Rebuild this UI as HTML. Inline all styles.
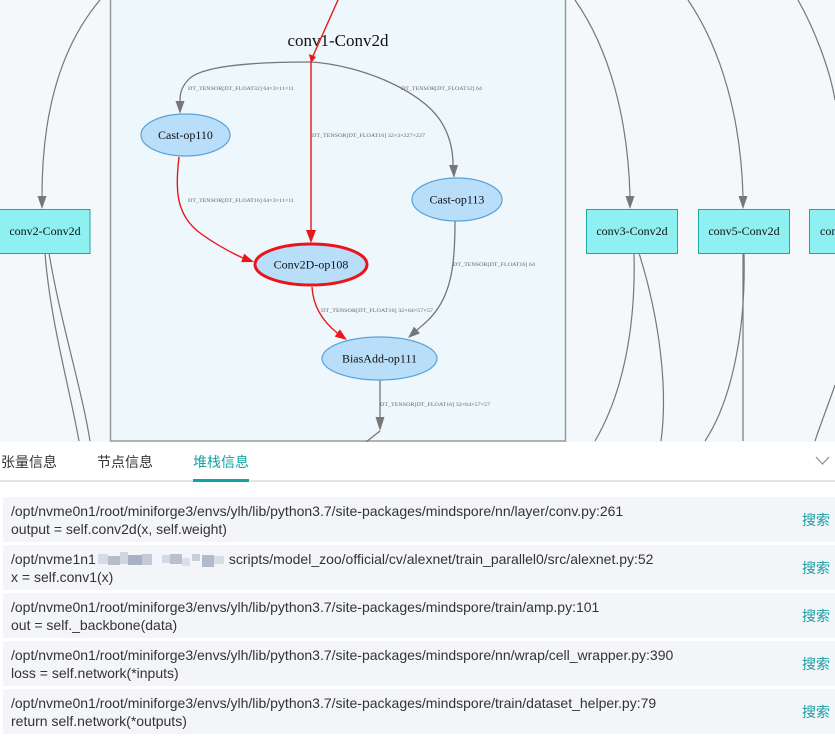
<!DOCTYPE html>
<html><head><meta charset="utf-8"><style>
html,body{margin:0;padding:0;}
body{width:835px;height:742px;position:relative;overflow:hidden;background:#fff;font-family:"Liberation Sans","Noto Sans CJK SC",sans-serif;}
#g{position:absolute;left:0;top:0;}
.tab{position:absolute;top:452px;font-size:14px;line-height:20px;color:#333;font-family:"Liberation Sans","Noto Sans CJK SC",sans-serif;}
.row{position:absolute;left:3px;width:832px;height:45px;background:#f3f5f9;}
.row .t{position:absolute;left:8px;top:5px;font-size:14px;line-height:18px;color:#333;white-space:nowrap;}
.row .s{position:absolute;left:799px;top:14px;font-size:14px;line-height:18px;color:#13a3a5;font-family:"Liberation Sans","Noto Sans CJK SC",sans-serif;}
.blur{display:inline-block;position:relative;width:133px;height:18px;vertical-align:top;}
.blur i{position:absolute;display:block;}
</style></head><body>
<svg id="g" width="835" height="442" viewBox="0 0 835 442" xmlns="http://www.w3.org/2000/svg">
<rect x="0" y="0" width="835" height="442" fill="#f4f8fa"/>
<rect x="110.5" y="-1" width="455" height="442" fill="#eef7fb" stroke="#9a9a9a" stroke-width="1.5"/>
<g fill="none" stroke="#777" stroke-width="1.2">
<path d="M100,0 C62,45 42,110 42,196"/>
<path d="M45,253 C50,320 70,390 79,441"/>
<path d="M49,253 C60,320 82,390 90,441"/>
<path d="M575,0 C610,50 628,120 630,196"/>
<path d="M688,0 C722,50 741,120 743,196"/>
<path d="M798,0 C815,30 830,70 835,100"/>
<path d="M634,253 C636,330 622,395 595,441"/>
<path d="M639,253 C660,320 668,390 661,441"/>
<path d="M744,253 C746,330 732,400 705,441"/>
<path d="M743,253 L743,441"/>
<path d="M815,441 C822,420 830,400 835,385"/>
</g>
<g fill="#777">
<polygon points="42,209 37.5,196 46.5,196"/>
<polygon points="630,209 625.5,196 634.5,196"/>
<polygon points="743,209 738.5,196 747.5,196"/>
</g>
<g fill="#8ff0f1" stroke="#1fa5a6" stroke-width="1">
<rect x="-1" y="209.5" width="91" height="44"/>
<rect x="586.5" y="209.5" width="91" height="44"/>
<rect x="698.5" y="209.5" width="91" height="44"/>
<rect x="809.5" y="209.5" width="40" height="44"/>
</g>
<g font-family="Liberation Serif, serif" font-size="12" fill="#111" text-anchor="middle">
<text x="45" y="235">conv2-Conv2d</text>
<text x="632" y="235">conv3-Conv2d</text>
<text x="744" y="235">conv5-Conv2d</text>
<text x="820" y="235" text-anchor="start">conv4-Conv2d</text>
</g>
<text x="338" y="46" font-family="Liberation Serif, serif" font-size="17" fill="#111" text-anchor="middle">conv1-Conv2d</text>
<!-- edges inside cluster -->
<g fill="none" stroke="#777" stroke-width="1.3">
<path d="M311,62 C250,62 200,66 188,80 C181,88 180,94 180,101"/>
<path d="M311,62 C360,65 420,90 440,120 C450,135 453,150 453,165"/>
<path d="M455,221 C455,260 452,285 440,305 C432,318 425,323 417,330"/>
<path d="M380,380 L380,418"/>
<path d="M380,431 L366,442"/>
</g>
<g fill="#777">
<polygon points="180,114 175.5,101 184.5,101"/>
<polygon points="454,178 449,165 458,165"/>
<polygon points="408,338 420,333.4 414,326.6"/>
<polygon points="380,431 375.5,417 384.5,417"/>
</g>
<g fill="none" stroke="#e8161a" stroke-width="1.4">
<path d="M338,0 L313,56"/>
<path d="M311,62 L311,230"/>
<path d="M179,157 C175,190 176,215 200,233 C215,244 230,252 242.7,257.9"/>
<path d="M312,287 C313,305 321,320 337.3,333"/>
</g>
<g fill="#e8161a">
<polygon points="311,63 309,54 316,57"/>
<polygon points="311,243 306,230 316,230"/>
<polygon points="254,262 241.2,262.1 244.2,253.7"/>
<polygon points="347,340 334.7,336.6 339.9,329.4"/>
</g>
<g stroke-width="1.2">
<ellipse cx="185.5" cy="135" rx="44.5" ry="21" fill="#b9defa" stroke="#5aa2d8"/>
<ellipse cx="457" cy="199.5" rx="45" ry="21.5" fill="#b9defa" stroke="#5aa2d8"/>
<ellipse cx="379.5" cy="358.5" rx="57.5" ry="21.5" fill="#b9defa" stroke="#5aa2d8"/>
<ellipse cx="311" cy="264.5" rx="56" ry="20.5" fill="#b9defa" stroke="#e8161a" stroke-width="3"/>
</g>
<g font-family="Liberation Serif, serif" font-size="12" fill="#111" text-anchor="middle">
<text x="185.5" y="139">Cast-op110</text>
<text x="457" y="203.5">Cast-op113</text>
<text x="311" y="268.5">Conv2D-op108</text>
<text x="379.5" y="362.5">BiasAdd-op111</text>
</g>
<g font-family="Liberation Serif, serif" font-size="5.5" fill="#666" lengthAdjust="spacingAndGlyphs">
<text x="188" y="90" textLength="106" lengthAdjust="spacingAndGlyphs">DT_TENSOR[DT_FLOAT32] 64×3×11×11</text>
<text x="401" y="90" textLength="81" lengthAdjust="spacingAndGlyphs">DT_TENSOR[DT_FLOAT32] 64</text>
<text x="312" y="137" textLength="113" lengthAdjust="spacingAndGlyphs">DT_TENSOR[DT_FLOAT16] 32×3×227×227</text>
<text x="188" y="202" textLength="106" lengthAdjust="spacingAndGlyphs">DT_TENSOR[DT_FLOAT16] 64×3×11×11</text>
<text x="453" y="266" textLength="82" lengthAdjust="spacingAndGlyphs">DT_TENSOR[DT_FLOAT16] 64</text>
<text x="321" y="312" textLength="112" lengthAdjust="spacingAndGlyphs">DT_TENSOR[DT_FLOAT16] 32×64×57×57</text>
<text x="380" y="406" textLength="110" lengthAdjust="spacingAndGlyphs">DT_TENSOR[DT_FLOAT16] 32×64×57×57</text>
</g>
</svg>

<div class="tab" style="left:1px;">张量信息</div>
<div class="tab" style="left:97px;">节点信息</div>
<div class="tab" style="left:193px;color:#13a3a5;">堆栈信息</div>
<div style="position:absolute;left:0;top:480px;width:835px;height:2px;background:#e4e4e4;"></div>
<div style="position:absolute;left:193px;top:479px;width:56px;height:3px;background:#13a3a5;"></div>
<svg style="position:absolute;left:814px;top:454px;" width="18" height="14"><polyline points="2,3 8.5,10 15,3" fill="none" stroke="#9a9a9a" stroke-width="1.3"/></svg>

<div class="row" style="top:497px;"><div class="t">/opt/nvme0n1/root/miniforge3/envs/ylh/lib/python3.7/site-packages/mindspore/nn/layer/conv.py:261<br>output = self.conv2d(x, self.weight)</div><div class="s">搜索</div></div>
<div class="row" style="top:545px;"><div class="t">/opt/nvme1n1<span class="blur"><i style="left:2px;top:4px;width:10px;height:10px;background:#d6dae2"></i><i style="left:12px;top:6px;width:12px;height:9px;background:#b5bccb"></i><i style="left:24px;top:2px;width:8px;height:12px;background:#cfd4de"></i><i style="left:32px;top:5px;width:14px;height:10px;background:#a9b2c4"></i><i style="left:46px;top:4px;width:10px;height:11px;background:#c4cad6"></i><i style="left:66px;top:5px;width:8px;height:8px;background:#d4d8e0"></i><i style="left:74px;top:4px;width:12px;height:10px;background:#b9c0ce"></i><i style="left:86px;top:8px;width:8px;height:8px;background:#dcdfe5"></i><i style="left:96px;top:4px;width:8px;height:7px;background:#c9ced9"></i><i style="left:106px;top:5px;width:12px;height:12px;background:#b2bbcd"></i><i style="left:118px;top:6px;width:10px;height:8px;background:#d8dce4"></i></span>scripts/model_zoo/official/cv/alexnet/train_parallel0/src/alexnet.py:52<br>x = self.conv1(x)</div><div class="s">搜索</div></div>
<div class="row" style="top:593px;"><div class="t">/opt/nvme0n1/root/miniforge3/envs/ylh/lib/python3.7/site-packages/mindspore/train/amp.py:101<br>out = self._backbone(data)</div><div class="s">搜索</div></div>
<div class="row" style="top:641px;"><div class="t">/opt/nvme0n1/root/miniforge3/envs/ylh/lib/python3.7/site-packages/mindspore/nn/wrap/cell_wrapper.py:390<br>loss = self.network(*inputs)</div><div class="s">搜索</div></div>
<div class="row" style="top:689px;"><div class="t">/opt/nvme0n1/root/miniforge3/envs/ylh/lib/python3.7/site-packages/mindspore/train/dataset_helper.py:79<br>return self.network(*outputs)</div><div class="s">搜索</div></div>
</body></html>
